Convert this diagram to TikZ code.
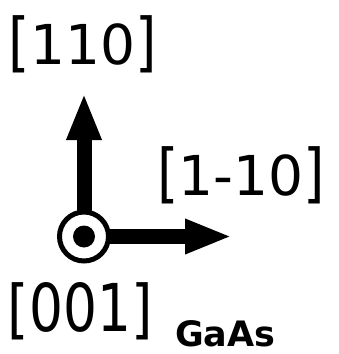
\documentclass[tikz,border=0pt]{standalone}
\usepackage{fontspec}
\setmainfont{DejaVu Sans}
\usetikzlibrary{arrows.meta}
\newcommand{\lbk}{\scalebox{1}[1.17]{[}}
\newcommand{\rbk}{\scalebox{1}[1.17]{]}}
\tikzset{
  lbl/.style={inner sep=0pt, outer sep=0pt, anchor=base west, font=\fontsize{55}{60}\selectfont},
  sub/.style={inner sep=0pt, outer sep=0pt, anchor=base west, font=\fontsize{35}{40}\selectfont\bfseries},
  axis/.style={line width=15pt, -{Triangle[length=47pt,width=32pt]}},
  ring/.style={circle, draw, line width=5pt, fill=white, minimum size=49pt, inner sep=0pt},
  dot/.style={circle, fill=black, minimum size=22pt, inner sep=0pt}
}
\begin{document}
\begin{tikzpicture}[x=1pt,y=-1pt]
\useasboundingbox (0,0) rectangle (338,354);
\coordinate (o) at (84,236.5);
\coordinate (tipN) at (84,93);
\coordinate (tipE) at (232,236.5);
\draw[axis] (o) -- (tipN);
\draw[axis] (o) -- (tipE);
\node[ring] (ringnode) at (o) {};
\node[dot] (dotnode) at (o) {};
\node[lbl] (n110) at (9,64) {\lbk 110\rbk};
\node[lbl] (n1m10) at (157,195) {\lbk 1-10\rbk};
\node[lbl] (n001) at (8,331) {\lbk\scalebox{0.97}[1.2]{001}\rbk};
\node[sub] (gaas) at (175,346) {GaAs};
\end{tikzpicture}
\end{document}
